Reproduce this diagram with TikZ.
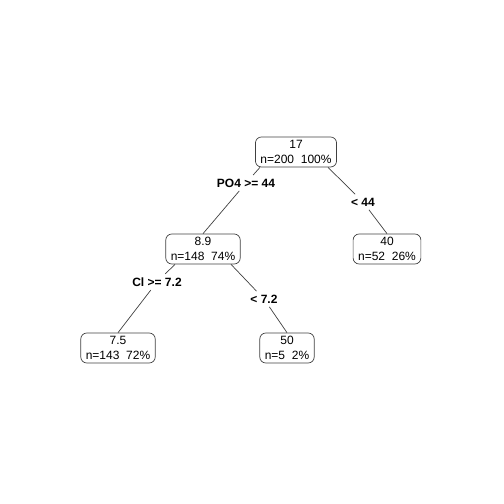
\documentclass[tikz,border=0pt]{standalone}
\usepackage{fontspec}
\setmainfont{Liberation Sans}
\usetikzlibrary{positioning}
\newcommand{\twosp}{\hspace{6.7pt}}

\begin{document}
\begin{tikzpicture}[x=1pt, y=1pt,
  box/.style={draw=black!75, line width=0.7pt, rounded corners=6pt, align=center,
    minimum height=30pt, inner xsep=5pt, inner ysep=2pt, font=\fontsize{12}{14.5}\selectfont},
  split/.style={font=\fontsize{12}{14}\selectfont\bfseries, inner sep=3.5pt},
  branch/.style={draw=black!75, line width=0.7pt}]
  \useasboundingbox (0,0) rectangle (504,504);
  % tree nodes: fitted value, n and percent
  \node[box] (root) at (296,352) {17\\n=200\twosp 100\%};
  \node[box] (n2) at (203,255) {8.9\\n=148\twosp 74\%};
  \node[box] (n3) at (387,255) {40\\n=52\twosp 26\%};
  \node[box] (n4) at (118,156) {7.5\\n=143\twosp 72\%};
  \node[box] (n5) at (287,156) {50\\n=5\twosp 2\%};
  % split labels on the branches
  \node[split] (s1) at (246,321) {PO4 >= 44};
  \node[split] (s2) at (363,302) {< 44};
  \node[split] (s3) at (157,222) {Cl >= 7.2};
  \node[split] (s4) at (264,205) {< 7.2};
  % branches: parent -> split label -> child
  \draw[branch] ([xshift=-36pt]root.south) -- (s1) -- (n2.north);
  \draw[branch] ([xshift=32pt]root.south) -- (s2) -- (n3.north);
  \draw[branch] ([xshift=-28pt]n2.south) -- (s3) -- (n4.north);
  \draw[branch] ([xshift=28pt]n2.south) -- (s4) -- (n5.north);
\end{tikzpicture}
\end{document}
